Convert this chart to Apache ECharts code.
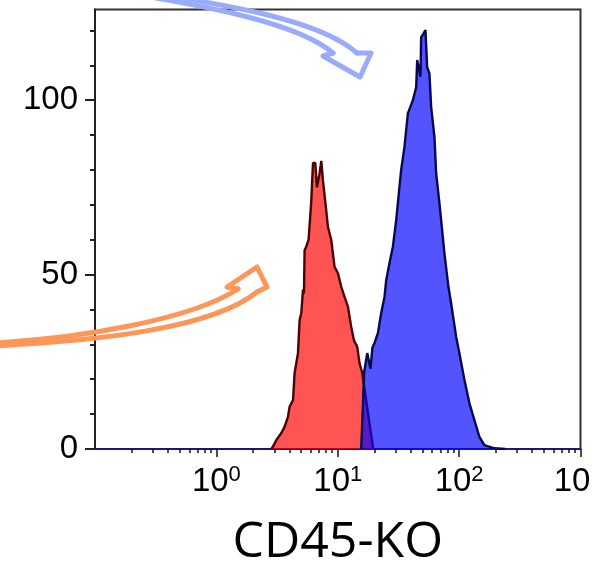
<!DOCTYPE html>
<html><head><meta charset="utf-8">
<script src="https://cdn.jsdelivr.net/npm/echarts@6/dist/echarts.min.js"></script>
<style>html,body{margin:0;padding:0;background:#fff}#c{width:611px;height:564px}</style>
</head><body><div id="c"></div>
<script>
// Histogram of the red population: [fluorescence value, count]
const redHist = [[2.83,0],[2.93,0.7],[3.12,2.6],[3.43,4.6],[3.65,6.4],[3.89,9.2],[4.01,12.1],[4.28,14],[4.41,21.8],[4.70,27.4],[4.85,37],[5.01,39],[5.17,45.7],[5.27,44.6],[5.33,57],[5.50,58],[5.75,60],[6.05,71],[6.25,82],[6.53,82],[6.74,75],[7.08,79],[7.32,82.6],[7.55,77],[7.89,71],[8.30,63.7],[8.84,59.9],[9.41,52.2],[10.04,50.4],[10.69,46.5],[11.38,43.6],[12.13,40.8],[12.91,35],[13.59,31.2],[14.47,29.3],[15.12,24.6],[15.91,21.8],[17.8,10],[19.6,0]];
// Histogram of the blue population
const blueHist = [[15.6,0],[16.1,12],[16.5,22],[17.5,27.5],[18.6,23],[19.3,29],[20.09,30.4],[21.42,33.2],[22.80,39.0],[24.28,43.6],[25.07,48.4],[26.69,53.3],[28.47,58.0],[30.30,65.6],[32.26,75.2],[33.31,80.1],[35.46,86.6],[37.82,96.2],[41.58,100.0],[44.29,103.8],[45.13,111.5],[48.03,106.7],[48.67,118.1],[50.83,119.1],[52.79,120.1],[54.52,109.5],[56.95,107.6],[58.81,98.1],[62.62,89.5],[64.67,79.0],[68.85,70.4],[71.10,65.6],[75.68,56.1],[81.64,46.5],[85.96,41.7],[94.48,32.2],[100.6,27.4],[110.6,19.8],[121.6,13.1],[133.6,8.3],[146.9,3.5],[161.5,1.1],[195.2,0.2],[240,0]];
const xMajorTicks = [1,10,100,1000];
const xLabelExponents = ['0','1','2','3'];
const xMinorTicks = [0.2,0.3,0.4,0.5,0.6,0.7,0.8,0.9,2,3,4,5,6,7,8,9,20,30,40,50,60,70,80,90,200,300,400,500,600,700,800,900];
const yMajorTicks = [0,50,100];
const yMinorTicks = [10,20,30,40,60,70,80,90,110,120];
const xAxisTitle = 'CD45-KO';

const chart = echarts.init(document.getElementById('c'), null, {renderer:'canvas'});
const labFont = 'Liberation Sans, Arial, sans-serif';
function xLabel(v){
  let idx = -1;
  xMajorTicks.forEach((t,i)=>{ if (Math.abs(Math.log10(v)-Math.log10(t))<1e-6) idx=i; });
  if (idx < 0) return '';
  if (idx === xMajorTicks.length-1) return '{bl|10}';
  return '{b|10}{s|' + xLabelExponents[idx] + '}';
}
function arrowParts(color, tailA, tailB, head){
  const st = {fill:null, stroke:color, lineWidth:5, lineCap:'round', lineJoin:'round'};
  return [
    {type:'bezierCurve', silent:true, z:100, shape:tailA, style:st},
    {type:'bezierCurve', silent:true, z:100, shape:tailB, style:st},
    {type:'polyline', silent:true, z:100, shape:{points:head}, style:st}
  ];
}
const blueArrow = arrowParts('#9aabfc',
  {x1:120,y1:-12,cpx1:230,cpy1:5,cpx2:320,cpy2:20,x2:357,y2:53},
  {x1:120,y1:-8,cpx1:220,cpy1:8,cpx2:300,cpy2:25,x2:333,y2:53},
  [[333,53],[323,56],[360,77],[371,53],[357,53]]);
const orangeArrow = arrowParts('#fd9658',
  {x1:-5,y1:343,cpx1:80,cpy1:338,cpx2:190,cpy2:320,x2:238,y2:289},
  {x1:-5,y1:346,cpx1:90,cpy1:341,cpx2:210,cpy2:330,x2:257,y2:292},
  [[238,289],[227,287],[257,267],[267,287],[257,292]]);

const option = {
  animation:false,
  backgroundColor:'#fff',
  grid:{left:95, right:30.5, top:9.5, bottom:115, show:true, borderColor:'#333', borderWidth:2, containLabel:false, outerBoundsMode:'none'},
  xAxis:[{
    type:'log', logBase:10, min:0.1, max:1000, position:'bottom',
    axisLine:{show:true, onZero:false, lineStyle:{color:'#1a1a6e', width:2}},
    axisTick:{show:true, length:8, customValues:xMajorTicks, lineStyle:{color:'#111', width:1.5}},
    axisLabel:{customValues:xMajorTicks, margin:15, formatter:xLabel,
      rich:{
        b:{fontSize:33, fontFamily:labFont, color:'#000', lineHeight:36},
        s:{fontSize:22, fontFamily:labFont, color:'#000', lineHeight:36, verticalAlign:'top'},
        bl:{fontSize:33, fontFamily:labFont, color:'#000', lineHeight:36, padding:[0,17,0,0]}
      }},
    splitLine:{show:false},
    name:xAxisTitle, nameLocation:'middle', nameGap:69,
    nameTextStyle:{fontFamily:'Open Sans', fontSize:50, color:'#000'}
  },{
    type:'log', logBase:10, min:0.1, max:1000, position:'bottom', offset:0,
    axisLine:{show:false},
    axisTick:{show:true, length:4, customValues:xMinorTicks, lineStyle:{color:'#111', width:1.5}},
    axisLabel:{show:false}, splitLine:{show:false}
  }],
  yAxis:[{
    type:'value', min:0, max:126, position:'left',
    axisLine:{show:true, lineStyle:{color:'#222', width:2}},
    axisTick:{show:true, length:10, customValues:yMajorTicks, lineStyle:{color:'#222', width:2}},
    axisLabel:{customValues:yMajorTicks, fontSize:33, fontFamily:labFont, color:'#000', margin:17},
    splitLine:{show:false}
  },{
    type:'value', min:0, max:126, position:'left', offset:0,
    axisLine:{show:false},
    axisTick:{show:true, length:5, customValues:yMinorTicks, lineStyle:{color:'#222', width:2}},
    axisLabel:{show:false}, splitLine:{show:false}
  }],
  series:[{
    type:'line', name:'red', data:redHist, xAxisIndex:0, yAxisIndex:0,
    symbol:'none', showSymbol:false, z:2,
    lineStyle:{color:'#4a0303', width:2.4},
    areaStyle:{color:'#ff0000', opacity:0.67},
    itemStyle:{color:'#ff0000'}
  },{
    type:'line', name:'blue', data:blueHist, xAxisIndex:0, yAxisIndex:0,
    symbol:'none', showSymbol:false, z:3,
    lineStyle:{color:'#08084e', width:2.4},
    areaStyle:{color:'#0000ff', opacity:0.67},
    itemStyle:{color:'#0000ff'}
  }],
  graphic: blueArrow.concat(orangeArrow)
};
chart.setOption(option);
</script>
</body></html>
